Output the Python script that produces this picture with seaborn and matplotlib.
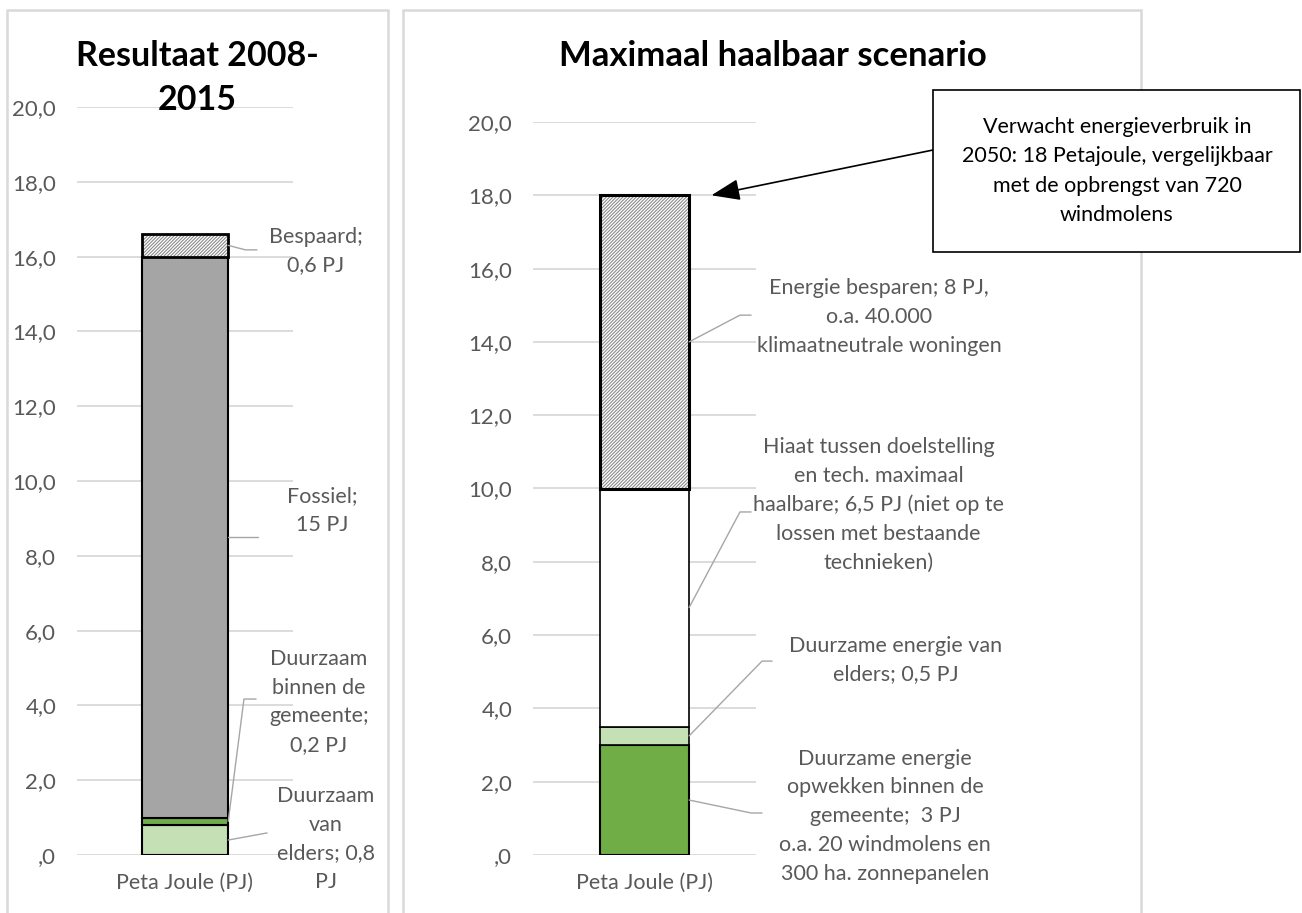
import matplotlib
matplotlib.use("Agg")
import matplotlib.pyplot as plt
import seaborn as sns
import pandas as pd
from matplotlib.patches import Rectangle

# ---------------- data ----------------
category = ["Peta Joule (PJ)"]
left_title = "Resultaat 2008-\n2015"
right_title = "Maximaal haalbaar scenario"

left_segments = ["Duurzaam van elders", "Duurzaam binnen de gemeente", "Fossiel", "Bespaard"]
left_values = [0.8, 0.2, 15.0, 0.6]
left_labels = ["Duurzaam\nvan\nelders; 0,8\nPJ",
               "Duurzaam\nbinnen de\ngemeente;\n0,2 PJ",
               "Fossiel;\n15 PJ",
               "Bespaard;\n0,6 PJ"]

right_segments = ["Duurzame energie opwekken binnen de gemeente", "Duurzame energie van elders",
                  "Hiaat", "Energie besparen"]
right_values = [3.0, 0.5, 6.5, 8.0]
right_labels = ["Duurzame energie\nopwekken binnen de\ngemeente;  3 PJ\no.a. 20 windmolens en\n300 ha. zonnepanelen",
                "Duurzame energie van\nelders; 0,5 PJ",
                "Hiaat tussen doelstelling\nen tech. maximaal\nhaalbare; 6,5 PJ (niet op te\nlossen met bestaande\ntechnieken)",
                "Energie besparen; 8 PJ,\no.a. 40.000\nklimaatneutrale woningen"]

box_text = "Verwacht energieverbruik in\n2050: 18 Petajoule, vergelijkbaar\nmet de opbrengst van 720\nwindmolens"

yticks = [0, 2, 4, 6, 8, 10, 12, 14, 16, 18, 20]
ytick_labels = [",0", "2,0", "4,0", "6,0", "8,0", "10,0", "12,0", "14,0", "16,0", "18,0", "20,0"]

# ---------------- style ----------------
sns.set_style("white")
plt.rcParams["font.family"] = ["Lato", "DejaVu Sans"]
plt.rcParams["hatch.linewidth"] = 0.8

GRAY_TXT = "#595959"
LEADER = "#a6a6a6"
GRID = "#d9d9d9"

W, H = 1302, 913
fig = plt.figure(figsize=(W / 100, H / 100), dpi=100)
fx = lambda px: px / W
fy = lambda py: 1 - py / H

# panel frames
for x0, x1 in [(7, 388), (403, 1141)]:
    fig.add_artist(Rectangle((fx(x0), fy(930)), (x1 - x0) / W, (930 - 10) / H,
                             transform=fig.transFigure, fill=False,
                             edgecolor="#d9d9d9", lw=1.8, zorder=0))

axL = fig.add_axes([fx(77), fy(855), 216 / W, 748 / H])
axR = fig.add_axes([fx(533), fy(855), 223 / W, 733 / H])

HATCH = "/" * 10
seg_styles_left = [
    dict(color="#c5e0b4", hatch=None, lw=1.5),
    dict(color="#70ad47", hatch=None, lw=1.5),
    dict(color="#a5a5a5", hatch=None, lw=1.5),
    dict(color="white", hatch=HATCH, lw=2.0),
]
seg_styles_right = [
    dict(color="#70ad47", hatch=None, lw=1.5),
    dict(color="#c5e0b4", hatch=None, lw=1.2),
    dict(color="white", hatch=None, lw=1.2),
    dict(color="white", hatch=HATCH, lw=2.2),
]


def stacked(ax, values, styles):
    bottom = 0.0
    mids = []
    for v, st in zip(values, styles):
        df = pd.DataFrame({"cat": category, "val": [v]})
        if st["hatch"]:
            sns.barplot(data=df, x="cat", y="val", ax=ax, width=0.4, color="white",
                        saturation=1, errorbar=None, bottom=bottom,
                        facecolor="white", edgecolor="#8c8c8c", linewidth=0,
                        hatch=st["hatch"], zorder=2)
            sns.barplot(data=df, x="cat", y="val", ax=ax, width=0.4, color="white",
                        saturation=1, errorbar=None, bottom=bottom,
                        facecolor="none", edgecolor="black", linewidth=st["lw"], zorder=3)
        else:
            sns.barplot(data=df, x="cat", y="val", ax=ax, width=0.4, color=st["color"],
                        saturation=1, errorbar=None, bottom=bottom,
                        facecolor=st["color"], edgecolor="black", linewidth=st["lw"], zorder=2)
        mids.append(bottom + v / 2)
        bottom += v
    return mids, bottom


midsL, totL = stacked(axL, left_values, seg_styles_left)
midsR, totR = stacked(axR, right_values, seg_styles_right)

for ax in (axL, axR):
    ax.set_xlim(-0.5, 0.5)
    ax.set_ylim(0, 20)
    ax.set_yticks(yticks)
    ax.set_yticklabels(ytick_labels)
    ax.yaxis.grid(True, color=GRID, lw=1.3)
    ax.xaxis.grid(False)
    ax.set_axisbelow(True)
    for s in ax.spines.values():
        s.set_visible(False)
    ax.tick_params(axis="y", length=0, pad=15, labelsize=16, labelcolor=GRAY_TXT)
    ax.tick_params(axis="x", length=0, pad=13, labelsize=15.5, labelcolor=GRAY_TXT)
    ax.set_xlabel("")
    ax.set_ylabel("")
    ax.patch.set_alpha(0)

# titles
fig.text(fx(197), fy(78), left_title, ha="center", va="center", fontsize=24.5,
         fontweight="bold", color="black", linespacing=1.45)
fig.text(fx(773), fy(56), right_title, ha="center", va="center", fontsize=25,
         fontweight="bold", color="black")

ANN_FS = 15.5
ANN_LS = 1.55

# ---------- left annotations (leader geometry in data units) ----------
left_text_pos = [(0.653, 0.43), (0.62, 4.09), (0.634, 9.22), (0.606, 16.15)]
left_leaders = [
    [(0.38, 0.59)],
    [(0.273, 4.17), (0.329, 4.17)],
    [(0.338, 8.5)],
    [(0.28, 16.18), (0.333, 16.18)],
]
for mid, lbl, (tx, ty), pts in zip(midsL, left_labels, left_text_pos, left_leaders):
    xs = [0.2] + [p[0] for p in pts]
    ys = [mid] + [p[1] for p in pts]
    axL.plot(xs, ys, color=LEADER, lw=1.0, clip_on=False, zorder=4)
    axL.text(tx, ty, lbl, ha="center", va="center", fontsize=ANN_FS, color=GRAY_TXT,
             linespacing=ANN_LS, clip_on=False)

# ---------- right annotations ----------
right_text_pos = [(1.078, 1.06), (1.128, 5.32), (1.05, 9.55), (1.052, 14.68)]
right_leaders = [
    [(0.478, 1.146), (0.527, 1.146)],
    [(0.527, 5.29), (0.572, 5.29)],
    [(0.428, 9.36), (0.478, 9.36)],
    [(0.428, 14.73), (0.478, 14.73)],
]
for mid, lbl, (tx, ty), pts in zip(midsR, right_labels, right_text_pos, right_leaders):
    xs = [0.2] + [p[0] for p in pts]
    ys = [mid] + [p[1] for p in pts]
    axR.plot(xs, ys, color=LEADER, lw=1.0, clip_on=False, zorder=4)
    axR.text(tx, ty, lbl, ha="center", va="center", fontsize=ANN_FS, color=GRAY_TXT,
             linespacing=ANN_LS, clip_on=False)

# ---------- callout box with arrow ----------
fig.add_artist(Rectangle((fx(933), fy(252)), 367 / W, 162 / H, transform=fig.transFigure,
                         facecolor="white", edgecolor="black", lw=1.2, zorder=5))
fig.text(fx(1117), fy(171), box_text, ha="center", va="center", fontsize=15.5,
         color="black", linespacing=1.6, zorder=6)
axR.annotate("", xy=(0.3, totR), xycoords="data",
             xytext=(fx(933), fy(150)), textcoords="figure fraction",
             arrowprops=dict(arrowstyle="-|>,head_length=0.8,head_width=0.3",
                             color="black", lw=1.2, shrinkA=0, shrinkB=0,
                             mutation_scale=22),
             annotation_clip=False)

fig.savefig("out.png", dpi=100)
